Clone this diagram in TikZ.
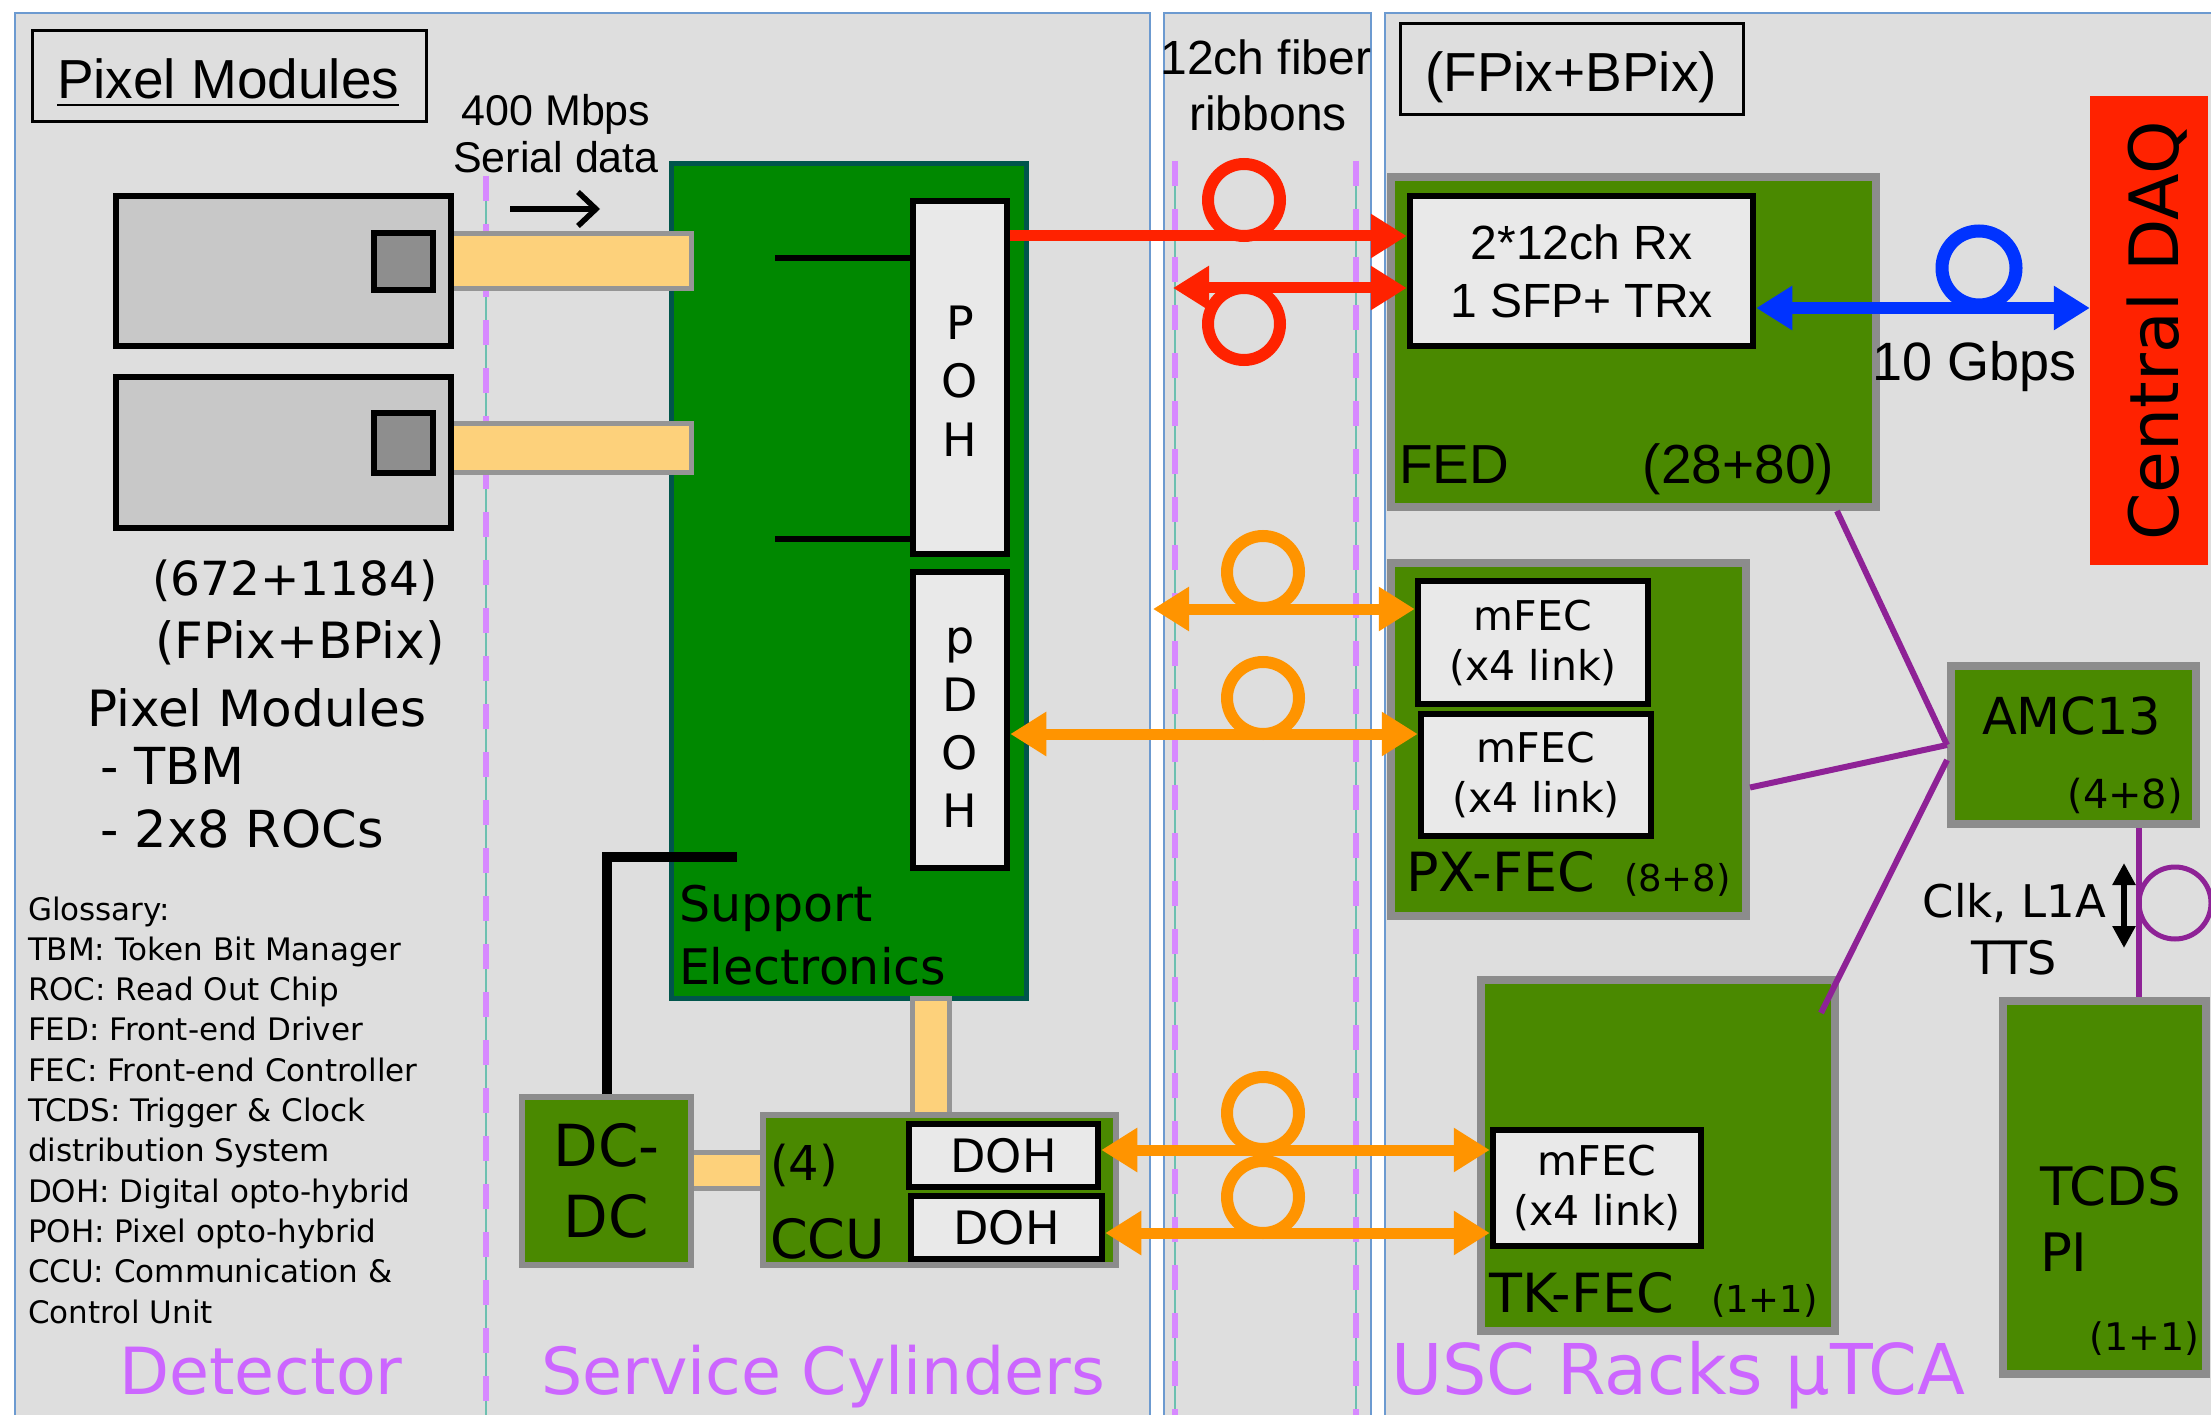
\documentclass[tikz,border=0pt]{standalone}
\usepackage{fontspec}
\setmainfont{Liberation Sans}
\newfontfamily\arf{Liberation Sans}
\newfontfamily\dvf{DejaVu Sans}
\usetikzlibrary{arrows.meta}
\definecolor{panelgray}{HTML}{DEDEDE}
\definecolor{panelblue}{HTML}{6C9AD0}
\definecolor{modgray}{HTML}{C8C8C8}
\definecolor{sqgray}{HTML}{8E8E8E}
\definecolor{ybarc}{HTML}{FDD17B}
\definecolor{ybarb}{HTML}{959595}
\definecolor{sgreen}{HTML}{008800}
\definecolor{sborder}{HTML}{00554C}
\definecolor{olivec}{HTML}{4A8900}
\definecolor{oborder}{HTML}{8C8C8C}
\definecolor{wfill}{HTML}{E9E9E9}
\definecolor{dred}{HTML}{FF2200}
\definecolor{orng}{HTML}{FF9400}
\definecolor{blu}{HTML}{0033FF}
\definecolor{purp}{HTML}{8E2296}
\definecolor{lilac}{HTML}{CC66FF}
\definecolor{dashpink}{HTML}{D789FF}
\definecolor{tealc}{HTML}{6CC0B0}
\newcommand\fsz[2]{\fontsize{#1}{#2}\selectfont}
\newcommand\mkbox[7]{\node[#1,minimum width={#5-#3},minimum height={#6-#4}] (#2) at ({(#3+#5)/2},{(#4+#6)/2}) {#7};}
\tikzset{
  bigtip/.tip={Triangle[length=36pt,width=42pt]},
  panel/.style={fill=panelgray, draw=panelblue, line width=2.5},
  txt/.style={inner sep=0, outer sep=0},
  tbox/.style={draw=black, line width=3, inner sep=0},
  mod/.style={draw=black, fill=modgray, line width=6, inner sep=0},
  sq/.style={draw=black, fill=sqgray, line width=6, inner sep=0},
  ybarst/.style={draw=ybarb, fill=ybarc, line width=5, inner sep=0},
  sup/.style={draw=sborder, fill=sgreen, line width=5, inner sep=0},
  obox/.style={draw=oborder, fill=olivec, line width=8, inner sep=0},
  wbox/.style={draw=black, fill=wfill, line width=6.5, inner sep=0, align=center},
  ringnode/.style={circle, draw, line width=12, minimum size=72pt, inner sep=0},
  fibre/.style={line width=11},
  pline/.style={draw=purp, line width=6},
  tealline/.style={draw=tealc, line width=1.5},
  dashline/.style={draw=dashpink, line width=6, dash pattern=on 25pt off 23pt},
}
\begin{document}
\begin{tikzpicture}[x=1pt,y=-1pt]
\useasboundingbox (0,0) rectangle (2211,1415);
\clip (0,0) rectangle (2211,1415);
\fill[white] (0,0) rectangle (2211,1415);
% panels
\draw[panel] (15,13) rectangle (1150,1430);
\draw[panel] (1164,13) rectangle (1371,1430);
\draw[panel] (1385,13) rectangle (2230,1430);
% dashed boundaries
\foreach \xx/\yy in {486/176,1175/161,1356/161}{
  \draw[tealline] (\xx,\yy) -- (\xx,1420);
  \draw[dashline] (\xx,\yy) -- (\xx,1420);
}
% title boxes
\mkbox{tbox}{tb1}{32}{31}{426}{122}{}
\node[txt, anchor=base west, font=\arf\fsz{55}{55}] (pmt) at (57,99) {Pixel Modules};
\draw[line width=2.5] ([yshift=-6pt]pmt.base west) -- ([yshift=-6pt]pmt.base east);
\mkbox{tbox}{tb3}{1400}{24}{1743}{115}{}
\node[txt, anchor=base, font=\arf\fsz{55}{55}] (fbt) at (1571,92) {(FPix+BPix)};
% serial data label
\node[txt, anchor=base, font=\arf\fsz{43}{43}] (t400) at (556,126) {400 Mbps};
\node[txt, anchor=base, font=\arf\fsz{43}{43}] (tser) at (556,173) {Serial data};
\coordinate (sa1) at (510,209);
\coordinate (sa2) at (600,209);
\draw[line width=5.5, -{Straight Barb[length=18pt,width=34pt,line width=5.5pt]}] (sa1) -- (sa2);
% support electronics
\mkbox{sup}{se}{671}{164}{1026}{998}{}
\mkbox{ybarst}{b1}{451}{234}{691}{289}{}
\mkbox{ybarst}{b2}{449}{423}{691}{472}{}
\mkbox{mod}{m1}{116}{196}{451}{346}{}
\mkbox{sq}{s1}{374}{233}{433}{290}{}
\mkbox{mod}{m2}{116}{377}{451}{528}{}
\mkbox{sq}{s2}{374}{413}{433}{473}{}
\mkbox{wbox}{poh}{913}{201}{1007}{554}{}
\node[txt, align=center, font=\dvf\fsz{46}{58.5}] (pohtxt) at (960,381) {P\\O\\H};
\mkbox{wbox}{pdoh}{913}{572}{1007}{868}{}
\node[txt, align=center, font=\dvf\fsz{46}{58}] (pdohtxt) at (960,728) {p\\D\\O\\H};
\coordinate (bl1) at (775,258);
\coordinate (bl2) at (775,539);
\draw[line width=6] (bl1) -- (poh.west |- bl1);
\draw[line width=6] (bl2) -- (poh.west |- bl2);
\node[txt, anchor=base west, font=\dvf\fsz{49}{49}] (set1) at (679,921) {Support};
\node[txt, anchor=base west, font=\dvf\fsz{49}{49}] (set2) at (679,984) {Electronics};
% lower service cylinder part
\mkbox{ybarst}{vb}{912}{998}{949}{1116}{}
\mkbox{ybarst}{hb}{690}{1152}{765}{1188}{}
\mkbox{obox, line width=6, align=center, font=\dvf\fsz{58}{71}}{dcdc}{522}{1097}{691}{1265}{DC-\\DC}
\mkbox{obox, line width=6}{ccu}{763}{1115}{1116}{1265}{}
\mkbox{wbox, font=\dvf\fsz{46}{46}}{doh1}{909}{1124}{1098}{1187}{DOH}
\mkbox{wbox, font=\dvf\fsz{46}{46}}{doh2}{911}{1196}{1102}{1259}{DOH}
\node[txt, anchor=base west, font=\dvf\fsz{48}{48}] (ccu4) at (770,1180) {(4)};
\node[txt, anchor=base west, font=\dvf\fsz{54}{54}] (ccut) at (770,1258) {CCU};
\coordinate (lc) at (737,857);
\draw[line width=10] (dcdc.north) |- (lc);
% left text block
\node[txt, anchor=base, font=\dvf\fsz{47}{47}] (cnt) at (295,595) {(672+1184)};
\node[txt, anchor=base, font=\dvf\fsz{50}{50}] (fb1) at (300,658) {(FPix+BPix)};
\node[txt, anchor=base west, font=\dvf\fsz{50}{50}] (pm2) at (87,726) {Pixel Modules};
\node[txt, anchor=base west, font=\dvf\fsz{51}{51}] (tbm) at (100,784) {- TBM};
\node[txt, anchor=base west, font=\dvf\fsz{51}{51}] (rocs) at (100,847) {- 2x8 ROCs};
\node[txt, anchor=north west, align=left, font=\dvf\fsz{31}{40.3}] (gloss) at (28,896.5) {Glossary:\\TBM: Token Bit Manager\\ROC: Read Out Chip\\FED: Front-end Driver\\FEC: Front-end Controller\\TCDS: Trigger \& Clock\\distribution System\\DOH: Digital opto-hybrid\\POH: Pixel opto-hybrid\\CCU: Communication \&\\Control Unit};
% fiber panel text
\node[txt, anchor=base, font=\arf\fsz{48}{48}] (fib1) at (1266,75) {12ch fiber};
\node[txt, anchor=base, font=\arf\fsz{48}{48}] (fib2) at (1268,131) {ribbons};
% USC boxes
\mkbox{obox}{fed}{1391}{177}{1876}{507}{}
\mkbox{wbox, font=\arf\fsz{48}{58}}{rx}{1410}{196}{1753}{346}{2*12ch Rx\\1 SFP+ TRx}
\node[txt, anchor=base west, font=\arf\fsz{55}{55}] (fedt) at (1399,483) {FED};
\node[txt, anchor=base east, font=\arf\fsz{55}{55}] (fedn) at (1834,483) {(28+80)};
\mkbox{obox}{pxfec}{1391}{563}{1746}{916}{}
\mkbox{wbox, font=\dvf\fsz{41}{50}}{mf1}{1418}{581}{1648}{704}{mFEC\\(x4 link)}
\mkbox{wbox, font=\dvf\fsz{41}{50}}{mf2}{1421}{714}{1651}{836}{mFEC\\(x4 link)}
\node[txt, anchor=base west, font=\dvf\fsz{54}{54}] (pxt) at (1406,891) {PX-FEC};
\node[txt, anchor=base west, font=\dvf\fsz{37}{37}] (pxn) at (1624,891) {(8+8)};
\mkbox{obox}{tkfec}{1481}{980}{1835}{1331}{}
\mkbox{wbox, font=\dvf\fsz{41}{50}}{mf3}{1493}{1130}{1701}{1246}{mFEC\\(x4 link)}
\node[txt, anchor=base west, font=\dvf\fsz{54}{54}] (tkt) at (1489,1312) {TK-FEC};
\node[txt, anchor=base west, font=\dvf\fsz{37}{37}] (tkn) at (1711,1312) {(1+1)};
\mkbox{obox}{amc}{1951}{666}{2196}{824}{}
\node[txt, anchor=base west, font=\dvf\fsz{51}{51}] (amct) at (1982,734) {AMC13};
\node[txt, anchor=base east, font=\dvf\fsz{40}{40}] (amcn) at (2183,808) {(4+8)};
\mkbox{obox}{tcds}{2003}{1001}{2206}{1374}{}
\node[txt, anchor=base west, font=\dvf\fsz{53}{53}] (tcd1) at (2040,1205) {TCDS};
\node[txt, anchor=base west, font=\dvf\fsz{53}{53}] (tcd2) at (2040,1271) {PI};
\node[txt, anchor=base east, font=\dvf\fsz{38}{38}] (tcdn) at (2199,1350) {(1+1)};
\mkbox{fill=dred, inner sep=0}{daq}{2090}{96}{2208}{565}{}
\node[txt, rotate=90, anchor=base, font=\dvf\fsz{68}{68}] (daqt) at (2178,331) {Central DAQ};
\node[txt, anchor=base west, font=\arf\fsz{54}{54}] (gbps) at (1872,380) {10 Gbps};
% purple links
\draw[pline] ([xshift=-43pt]fed.south east) -- (amc.west);
\draw[pline] ([yshift=-48pt]pxfec.east) -- (amc.west);
\draw[pline] ([xshift=-18pt,yshift=-37pt]tkfec.north east) -- ([yshift=-15pt]amc.west);
\coordinate (pv) at (2139,0);
\draw[pline] (amc.south -| pv) -- (tcds.north -| pv);
\node[ringnode, draw=purp, line width=5] (lp) at (2175,903) {};
\coordinate (ck1) at (2124,863);
\coordinate (ck2) at (2124,948);
\draw[line width=6, {Triangle[length=22pt,width=22pt]}-{Triangle[length=22pt,width=22pt]}] (ck1) -- (ck2);
\node[txt, anchor=base east, font=\dvf\fsz{45}{45}] (clk) at (2106,917) {Clk, L1A};
\node[txt, anchor=base, font=\dvf\fsz{46}{46}] (tts) at (2014,974) {TTS};
% fibre loops and arrows
\node[ringnode, draw=dred] (lr1) at (1244,200) {};
\node[ringnode, draw=dred] (lr2) at (1244,324) {};
\node[ringnode, draw=blu, line width=13, minimum size=74pt] (lb) at (1979,268) {};
\node[ringnode, draw=orng] (lo1) at (1263,572) {};
\node[ringnode, draw=orng] (lo2) at (1263,698) {};
\node[ringnode, draw=orng] (lo3) at (1263,1113) {};
\node[ringnode, draw=orng] (lo4) at (1263,1197) {};
\coordinate (yr1) at (0,236);
\draw[fibre, draw=dred, fill=dred, -bigtip] (poh.east |- yr1) -- (rx.west |- yr1);
\coordinate (r2l) at (1173,288);
\draw[fibre, draw=dred, fill=dred, bigtip-bigtip] (r2l) -- (rx.west |- r2l);
\coordinate (yb) at (0,308);
\draw[fibre, line width=12, draw=blu, fill=blu, bigtip-bigtip] (rx.east |- yb) -- (daq.west |- yb);
\coordinate (oal) at (1153,609);
\draw[fibre, draw=orng, fill=orng, bigtip-bigtip] (oal) -- (mf1.west |- oal);
\coordinate (yob) at (0,734);
\draw[fibre, draw=orng, fill=orng, bigtip-bigtip] (pdoh.east |- yob) -- (mf2.west |- yob);
\coordinate (yoc) at (0,1150);
\draw[fibre, draw=orng, fill=orng, bigtip-bigtip] (doh1.east |- yoc) -- (mf3.west |- yoc);
\coordinate (yod) at (0,1233);
\draw[fibre, draw=orng, fill=orng, bigtip-bigtip] (doh2.east |- yod) -- (mf3.west |- yod);
% region labels
\node[txt, anchor=base, text=lilac, font=\dvf\fsz{65}{65}] (lbd) at (261,1394) {Detector};
\node[txt, anchor=base, text=lilac, font=\dvf\fsz{65}{65}] (lbs) at (823,1394) {Service Cylinders};
\node[txt, anchor=base west, text=lilac, font=\dvf\fsz{70}{70}] (lbu) at (1391,1394) {USC Racks μTCA};
\end{tikzpicture}
\end{document}
